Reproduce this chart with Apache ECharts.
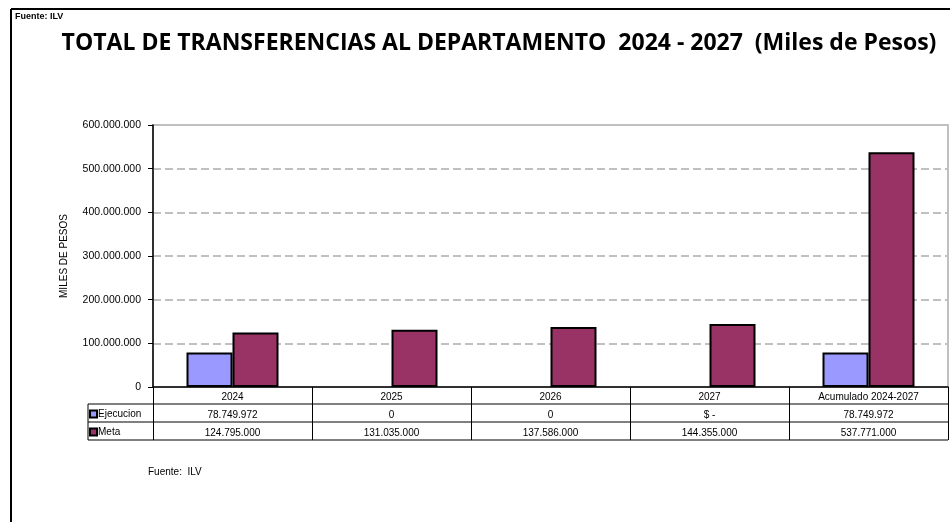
<!DOCTYPE html>
<html>
<head>
<meta charset="utf-8">
<script src="https://cdn.jsdelivr.net/npm/echarts@6/dist/echarts.min.js"></script>
<style>
  html, body { margin: 0; padding: 0; background: #fff; }
  #chart { width: 950px; height: 522px; }
</style>
</head>
<body>
<div id="chart"></div>
<script>
  // datos (miles de pesos)
  var categorias = ['2024', '2025', '2026', '2027', 'Acumulado 2024-2027'];
  var ejecucion = [78749972, 0, 0, 0, 78749972];
  var meta = [124795000, 131035000, 137586000, 144355000, 537771000];
  // textos de la tabla de datos
  var ejecucionTxt = ['78.749.972', '0', '0', '$ -', '78.749.972'];
  var metaTxt = ['124.795.000', '131.035.000', '137.586.000', '144.355.000', '537.771.000'];
  var yMin = 0, yMax = 600000000, yPaso = 100000000;

  function miles(v) {
    return String(v).replace(/\B(?=(\d{3})+(?!\d))/g, '.');
  }
  // en excel las barras en cero no se ven, sin borde
  function sinBordeEnCero(arr) {
    return arr.map(function (v) {
      return v === 0 ? { value: v, itemStyle: { borderWidth: 0 } } : v;
    });
  }

  var fuente = '"Liberation Sans", Arial, sans-serif';
  var myChart = echarts.init(document.getElementById('chart'));

  var option = {
    animation: false,
    textStyle: { fontFamily: fuente },
    grid: {
      left: 153, right: 2, top: 125, bottom: 135,
      show: true, borderColor: '#c0c0c0', borderWidth: 2
    },
    legend: {
      orient: 'vertical',
      left: 89, top: 408,
      padding: 0,
      itemWidth: 7, itemHeight: 7, itemGap: 6,
      icon: 'rect',
      textStyle: { fontSize: 10, color: '#000', padding: [0, 0, 0, -4], lineHeight: 12 },
      data: ['Ejecucion', 'Meta']
    },
    xAxis: {
      type: 'category',
      data: categorias,
      axisLine: { lineStyle: { color: '#000', width: 1.5 } },
      axisTick: { show: true, length: 53, lineStyle: { color: '#000', width: 1 } },
      axisLabel: {
        margin: 2,
        interval: 0,
        formatter: function (v, i) {
          return '{c|' + v + '}\n{e|' + ejecucionTxt[i] + '}\n{m|' + metaTxt[i] + '}';
        },
        rich: {
          c: { fontSize: 10, color: '#000', lineHeight: 17, fontFamily: fuente },
          e: { fontSize: 10, color: '#000', lineHeight: 18, fontFamily: fuente },
          m: { fontSize: 10, color: '#000', lineHeight: 18, fontFamily: fuente }
        }
      }
    },
    yAxis: {
      type: 'value',
      min: yMin, max: yMax, interval: yPaso,
      name: 'MILES DE PESOS',
      nameLocation: 'middle',
      nameRotate: 90,
      nameGap: 84,
      nameTextStyle: { fontSize: 10, color: '#000' },
      axisLine: { show: true, lineStyle: { color: '#000', width: 1.5 } },
      axisTick: { show: true, length: 5, lineStyle: { color: '#000' } },
      axisLabel: {
        fontSize: 10.5, color: '#000', margin: 12,
        formatter: function (v) { return miles(v); }
      },
      splitLine: { show: true, lineStyle: { color: '#c0c0c0', width: 2, type: [8, 4] } }
    },
    series: [
      {
        name: 'Ejecucion',
        type: 'bar',
        data: sinBordeEnCero(ejecucion),
        barWidth: 46,
        barGap: '0%',
        itemStyle: { color: '#9999ff', borderColor: '#000', borderWidth: 2 }
      },
      {
        name: 'Meta',
        type: 'bar',
        data: sinBordeEnCero(meta),
        barWidth: 46,
        itemStyle: { color: '#993366', borderColor: '#000', borderWidth: 2 }
      }
    ]
  };
  myChart.setOption(option);

  // marco, titulo y lineas de la tabla de datos
  var y0 = myChart.convertToPixel({ yAxisIndex: 0 }, 0);
  var xFin = 948;
  var filas = [y0 + 17, y0 + 35, y0 + 53];
  var lineas = filas.map(function (y) {
    return { type: 'line', shape: { x1: 88, y1: y, x2: xFin, y2: y }, style: { stroke: '#000', lineWidth: 1 } };
  });
  lineas.push({ type: 'line', shape: { x1: 88, y1: filas[0], x2: 88, y2: filas[2] }, style: { stroke: '#000', lineWidth: 1 } });

  myChart.setOption({
    graphic: [
      { type: 'line', shape: { x1: 11, y1: 9, x2: 950, y2: 9 }, style: { stroke: '#000', lineWidth: 2 } },
      { type: 'line', shape: { x1: 11, y1: 9, x2: 11, y2: 522 }, style: { stroke: '#000', lineWidth: 2 } },
      { type: 'text', x: 15, y: 12, style: { text: 'Fuente: ILV', font: 'bold 9px ' + fuente, fill: '#000' } },
      {
        type: 'text', x: 499, y: 43,
        style: {
          text: 'TOTAL DE TRANSFERENCIAS AL DEPARTAMENTO  2024 - 2027  (Miles de Pesos)',
          font: 'bold 23px "Open Sans", sans-serif', fill: '#000',
          textAlign: 'center', textVerticalAlign: 'middle'
        }
      },
      { type: 'text', x: 148, y: 467, style: { text: 'Fuente:  ILV', font: '10px ' + fuente, fill: '#000' } }
    ].concat(lineas)
  });
</script>
</body>
</html>
